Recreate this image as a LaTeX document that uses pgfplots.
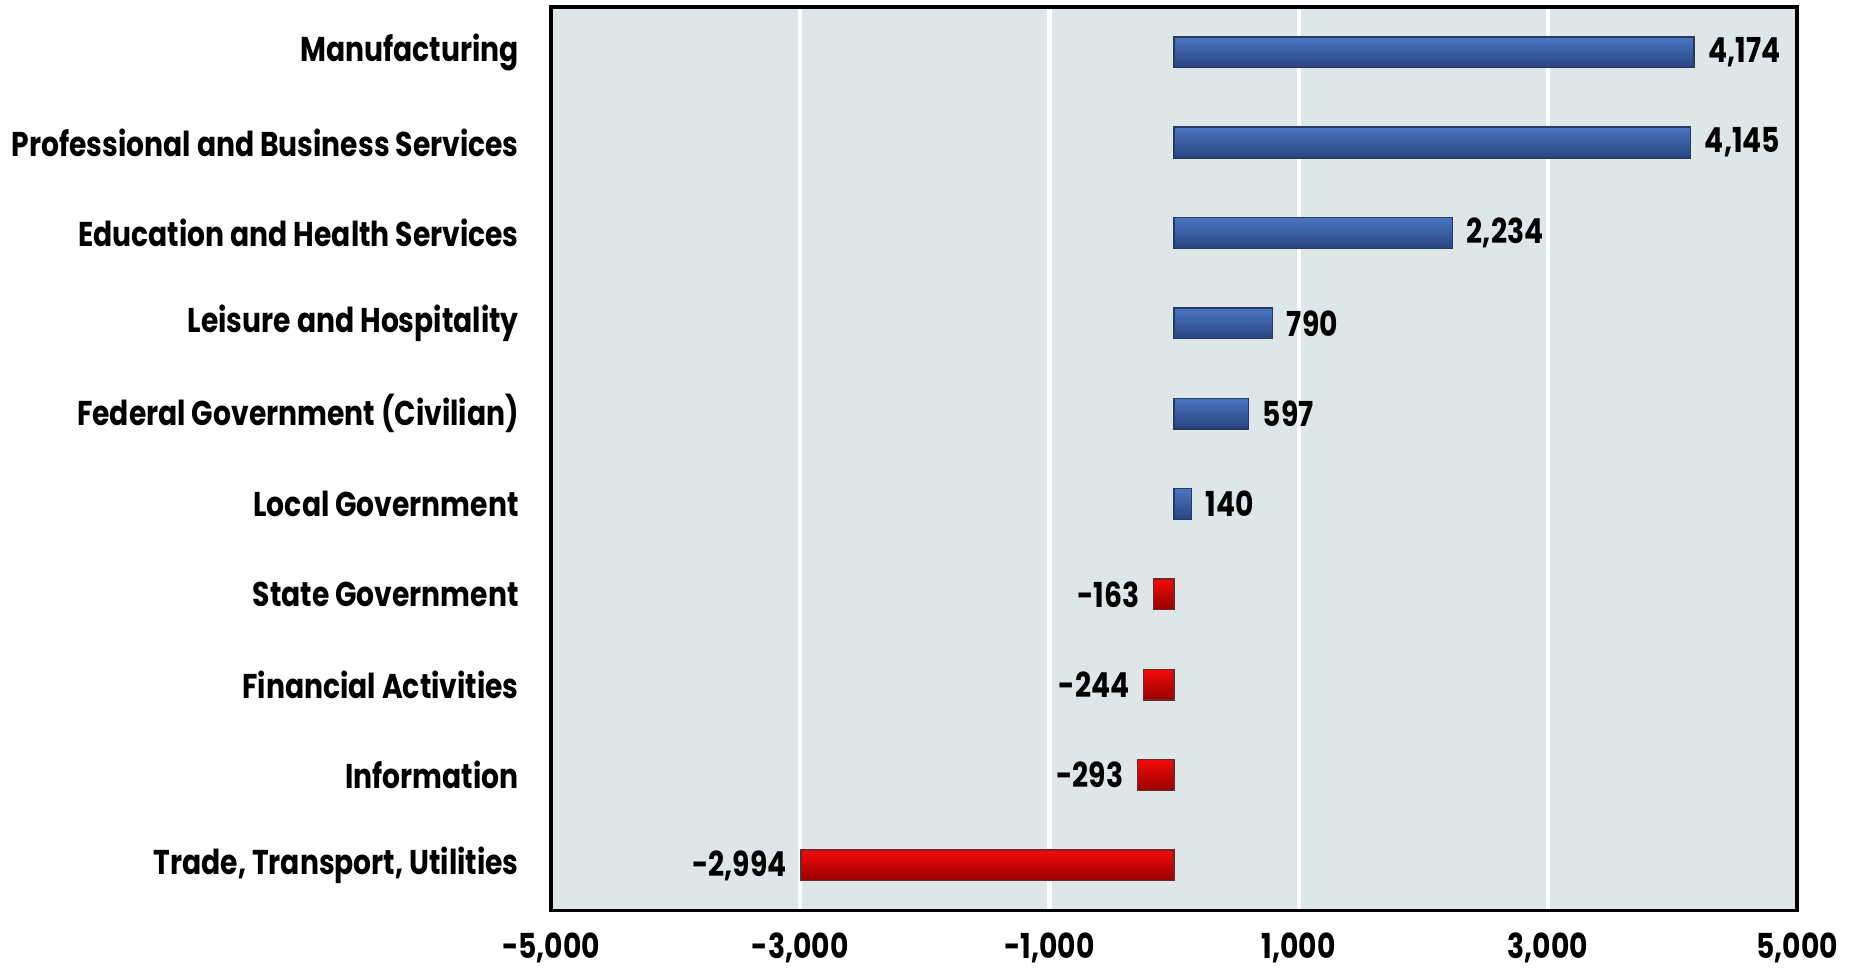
\documentclass[border=0pt]{standalone}
\usepackage{pgfplots}
\pgfplotsset{compat=1.18}
\usepackage{fontspec}
\setmainfont{Poppins}[BoldFont={* Bold}, BoldFeatures={FakeStretch=0.82}]

\definecolor{panel}{RGB}{223,230,232}
\definecolor{bluetop}{RGB}{74,118,194}
\definecolor{bluemid}{RGB}{140,180,240}
\definecolor{bluebot}{RGB}{40,68,128}
\definecolor{blueedge}{RGB}{40,58,100}
\definecolor{redtop}{RGB}{245,10,10}
\definecolor{redmid}{RGB}{255,60,60}
\definecolor{redbot}{RGB}{150,0,0}
\definecolor{rededge}{RGB}{110,40,40}

\pgfplotsset{
  gain/.style={draw=blueedge, line width=0.4pt, shade, shading angle=0,
    top color=bluetop, middle color=bluemid, bottom color=bluebot,
    every node near coord/.append style={anchor=west, xshift=0.02cm}},
  loss/.style={draw=rededge, line width=0.4pt, shade, shading angle=0,
    top color=redtop, middle color=redmid, bottom color=redbot,
    every node near coord/.append style={anchor=east, xshift=-0.02cm}},
}

\begin{document}
\begin{tikzpicture}[x=1cm,y=1cm]
\begin{axis}[
  at={(0,0)}, anchor=south west,
  scale only axis,
  width=12.48cm, height=9.05cm,
  xbar, bar width=0.34, bar shift=0pt,
  xmin=-5000, xmax=5000,
  ymin=-0.5, ymax=9.5,
  xtick={-5000,-3000,-1000,1000,3000,5000},
  ytick={0,...,9},
  yticklabels={{Trade, Transport, Utilities},Information,Financial Activities,State Government,Local Government,Federal Government (Civilian),Leisure and Hospitality,Education and Health Services,Professional and Business Services,Manufacturing},
  xmajorgrids, ymajorgrids=false,
  grid style={white, line width=1.2pt},
  axis background/.style={fill=panel},
  axis line style={black, line width=1.1pt},
  major tick length=0pt,
  tick label style={font=\bfseries\fontsize{9.8}{12}\selectfont},
  xticklabel style={inner ysep=0pt, yshift=-0.22cm},
  yticklabel style={xshift=-0.2cm},
  /pgf/number format/.cd, 1000 sep={,}, assume math mode=true,
  /pgfplots/.cd,
  point meta=x,
  nodes near coords={\pgfmathprintnumber{\pgfplotspointmeta}},
  nodes near coords align={horizontal},
  every node near coord/.append style={font=\bfseries\fontsize{9.8}{12}\selectfont, black},
]
% gains
\addplot[gain] coordinates {(4174,9)};
\addplot[gain] coordinates {(4145,8)};
\addplot[gain] coordinates {(2234,7)};
\addplot[gain] coordinates {(790,6)};
\addplot[gain] coordinates {(597,5)};
\addplot[gain] coordinates {(140,4)};
% losses
\addplot[loss] coordinates {(-163,3)};
\addplot[loss] coordinates {(-244,2)};
\addplot[loss] coordinates {(-293,1)};
\addplot[loss] coordinates {(-2994,0)};
\end{axis}
\path (-5.49,-0.57) rectangle (13.09,9.12);
\end{tikzpicture}
\end{document}
